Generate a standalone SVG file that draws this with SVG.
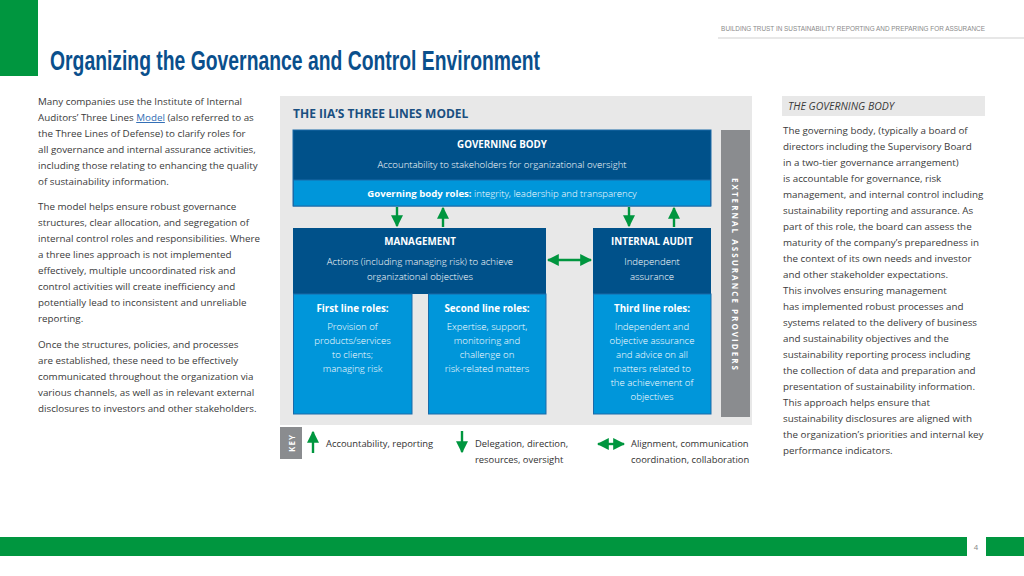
<svg xmlns="http://www.w3.org/2000/svg" width="1024" height="576" viewBox="0 0 1024 576">
<defs>
<style>
.body{font-family:"Open Sans","Noto Sans",sans-serif;font-size:9.8px;fill:#3a3a3a}
.wb{font-family:"Open Sans","Noto Sans",sans-serif;font-size:9.8px;fill:#fff;font-weight:700}
.wt{font-family:"Open Sans","Noto Sans",sans-serif;font-size:9.6px;fill:#fff;font-weight:300}
.key{font-family:"Open Sans","Noto Sans",sans-serif;font-size:9.4px;fill:#333}
.dark{fill:#00518a}
.light{fill:#0096da;stroke:#1a6aa8;stroke-width:1}
.arr{stroke:#00963f;stroke-width:2.4;fill:none}
</style>
<marker id="head" viewBox="0 0 10 10" refX="9" refY="5" markerWidth="5" markerHeight="5" orient="auto-start-reverse" markerUnits="strokeWidth">
<path d="M0,0 L10,5 L0,10 z" fill="#00963f"/>
</marker>
</defs>
<rect width="1024" height="576" fill="#fff"/>
<g id="header">
<rect x="0" y="0" width="38" height="76" fill="#00963f"/>
<text transform="translate(985,31) scale(0.8,1)" text-anchor="end" font-family="Liberation Sans,sans-serif" font-size="8" fill="#8a8a8a">BUILDING TRUST IN SUSTAINABILITY REPORTING AND PREPARING FOR ASSURANCE</text>
<line x1="718" y1="38" x2="1024" y2="38" stroke="#cfcfcf" stroke-width="1"/>
<text x="50" y="70" font-family="Liberation Sans,sans-serif" font-size="27" font-weight="700" fill="#0a4f8c" textLength="490" lengthAdjust="spacingAndGlyphs">Organizing the Governance and Control Environment</text>
</g>
<g id="left-text" class="body">
<text x="38" y="105">Many companies use the Institute of Internal</text>
<text x="38" y="121">Auditors’ Three Lines <tspan fill="#2f6db5" text-decoration="underline">Model</tspan> (also referred to as</text>
<text x="38" y="137">the Three Lines of Defense) to clarify roles for</text>
<text x="38" y="153">all governance and internal assurance activities,</text>
<text x="38" y="169">including those relating to enhancing the quality</text>
<text x="38" y="185">of sustainability information.</text>
<text x="38" y="210">The model helps ensure robust governance</text>
<text x="38" y="226">structures, clear allocation, and segregation of</text>
<text x="38" y="242">internal control roles and responsibilities. Where</text>
<text x="38" y="258">a three lines approach is not implemented</text>
<text x="38" y="274">effectively, multiple uncoordinated risk and</text>
<text x="38" y="290">control activities will create inefficiency and</text>
<text x="38" y="306">potentially lead to inconsistent and unreliable</text>
<text x="38" y="322">reporting.</text>
<text x="38" y="348">Once the structures, policies, and processes</text>
<text x="38" y="364">are established, these need to be effectively</text>
<text x="38" y="380">communicated throughout the organization via</text>
<text x="38" y="396">various channels, as well as in relevant external</text>
<text x="38" y="412">disclosures to investors and other stakeholders.</text>
</g>
<g id="panel">
<rect x="280" y="96" width="472" height="329" fill="#e8e8e8"/>
<text x="293" y="118" font-family="Open Sans,sans-serif" font-size="12" font-weight="700" fill="#1a4f80">THE IIA’S THREE LINES MODEL</text>
</g>
<g id="governing-body">
<rect x="293" y="130" width="418" height="76" fill="#00518a" stroke="#1a6aa8"/>
<rect x="293.5" y="180" width="417" height="26" class="light"/>
<text x="502" y="148" text-anchor="middle" class="wb">GOVERNING BODY</text>
<text x="502" y="168" text-anchor="middle" class="wt">Accountability to stakeholders for organizational oversight</text>
<text x="502" y="197" text-anchor="middle" class="wt"><tspan font-weight="700">Governing body roles:</tspan> integrity, leadership and transparency</text>
</g>
<g id="management">
<rect x="293" y="228" width="253" height="66" class="dark"/>
<text x="420" y="245" text-anchor="middle" class="wb">MANAGEMENT</text>
<text x="420" y="265" text-anchor="middle" class="wt">Actions (including managing risk) to achieve</text>
<text x="420" y="280" text-anchor="middle" class="wt">organizational objectives</text>
</g>
<g id="first-line">
<rect x="293.5" y="294" width="118.5" height="120" class="light"/>
<text x="352.5" y="312" text-anchor="middle" class="wb">First line roles:</text>
<text x="352.5" y="330" text-anchor="middle" class="wt">Provision of</text>
<text x="352.5" y="344" text-anchor="middle" class="wt">products/services</text>
<text x="352.5" y="358" text-anchor="middle" class="wt">to clients;</text>
<text x="352.5" y="372" text-anchor="middle" class="wt">managing risk</text>
</g>
<g id="second-line">
<rect x="428.5" y="294" width="117.5" height="120" class="light"/>
<text x="487" y="312" text-anchor="middle" class="wb">Second line roles:</text>
<text x="487" y="330" text-anchor="middle" class="wt">Expertise, support,</text>
<text x="487" y="344" text-anchor="middle" class="wt">monitoring and</text>
<text x="487" y="358" text-anchor="middle" class="wt">challenge on</text>
<text x="487" y="372" text-anchor="middle" class="wt">risk-related matters</text>
</g>
<g id="internal-audit">
<rect x="593" y="228" width="118" height="66" class="dark"/>
<rect x="593.5" y="294" width="117.5" height="120" class="light"/>
<text x="652" y="245" text-anchor="middle" class="wb">INTERNAL AUDIT</text>
<text x="652" y="265" text-anchor="middle" class="wt">Independent</text>
<text x="652" y="280" text-anchor="middle" class="wt">assurance</text>
<text x="652" y="312" text-anchor="middle" class="wb">Third line roles:</text>
<text x="652" y="330" text-anchor="middle" class="wt">Independent and</text>
<text x="652" y="344" text-anchor="middle" class="wt">objective assurance</text>
<text x="652" y="358" text-anchor="middle" class="wt">and advice on all</text>
<text x="652" y="372" text-anchor="middle" class="wt">matters related to</text>
<text x="652" y="386" text-anchor="middle" class="wt">the achievement of</text>
<text x="652" y="400" text-anchor="middle" class="wt">objectives</text>
</g>
<g id="external-assurance">
<rect x="721" y="130" width="29" height="287" fill="#8a8c8f"/>
<text transform="translate(732,274) rotate(90)" text-anchor="middle" font-family="Open Sans,sans-serif" font-size="8" font-weight="700" fill="#fff" textLength="192" lengthAdjust="spacing">EXTERNAL ASSURANCE PROVIDERS</text>
</g>
<g id="connectors">
<line x1="397" y1="207" x2="397" y2="226" class="arr" marker-end="url(#head)"/>
<line x1="443" y1="227" x2="443" y2="208" class="arr" marker-end="url(#head)"/>
<line x1="629" y1="207" x2="629" y2="226" class="arr" marker-end="url(#head)"/>
<line x1="674" y1="227" x2="674" y2="208" class="arr" marker-end="url(#head)"/>
<line x1="548" y1="260" x2="591" y2="260" class="arr" marker-start="url(#head)" marker-end="url(#head)"/>
</g>
<g id="key">
<rect x="280" y="427" width="22" height="32" fill="#8a8c8f"/>
<text transform="translate(294.5,443) rotate(-90)" text-anchor="middle" font-family="Open Sans,sans-serif" font-size="8" font-weight="700" fill="#fff" letter-spacing="1">KEY</text>
<line x1="313" y1="453" x2="313" y2="432" class="arr" marker-end="url(#head)"/>
<text x="326" y="447" class="key">Accountability, reporting</text>
<line x1="462" y1="431" x2="462" y2="452" class="arr" marker-end="url(#head)"/>
<text x="475" y="447" class="key">Delegation, direction,</text>
<text x="475" y="463" class="key">resources, oversight</text>
<line x1="598" y1="444" x2="624" y2="444" class="arr" marker-start="url(#head)" marker-end="url(#head)"/>
<text x="631" y="447" class="key">Alignment, communication</text>
<text x="631" y="463" class="key">coordination, collaboration</text>
</g>
<g id="right-text" class="body">
<rect x="782" y="96" width="203" height="20" fill="#e8e8e8"/>
<text x="788" y="110" font-style="italic" font-size="10.5">THE GOVERNING BODY</text>
<text x="783" y="134">The governing body, (typically a board of</text>
<text x="783" y="150">directors including the Supervisory Board</text>
<text x="783" y="166">in a two-tier governance arrangement)</text>
<text x="783" y="182">is accountable for governance, risk</text>
<text x="783" y="198">management, and internal control including</text>
<text x="783" y="214">sustainability reporting and assurance. As</text>
<text x="783" y="230">part of this role, the board can assess the</text>
<text x="783" y="246">maturity of the company’s preparedness in</text>
<text x="783" y="262">the context of its own needs and investor</text>
<text x="783" y="278">and other stakeholder expectations.</text>
<text x="783" y="294">This involves ensuring management</text>
<text x="783" y="310">has implemented robust processes and</text>
<text x="783" y="326">systems related to the delivery of business</text>
<text x="783" y="342">and sustainability objectives and the</text>
<text x="783" y="358">sustainability reporting process including</text>
<text x="783" y="374">the collection of data and preparation and</text>
<text x="783" y="390">presentation of sustainability information.</text>
<text x="783" y="406">This approach helps ensure that</text>
<text x="783" y="422">sustainability disclosures are aligned with</text>
<text x="783" y="438">the organization’s priorities and internal key</text>
<text x="783" y="454">performance indicators.</text>
</g>
<g id="footer">
<rect x="0" y="537" width="967" height="19" fill="#00963f"/>
<rect x="986" y="537" width="38" height="19" fill="#00963f"/>
<text x="976" y="550" text-anchor="middle" font-family="Liberation Sans,sans-serif" font-size="8" fill="#8a8a8a">4</text>
</g>
</svg>
